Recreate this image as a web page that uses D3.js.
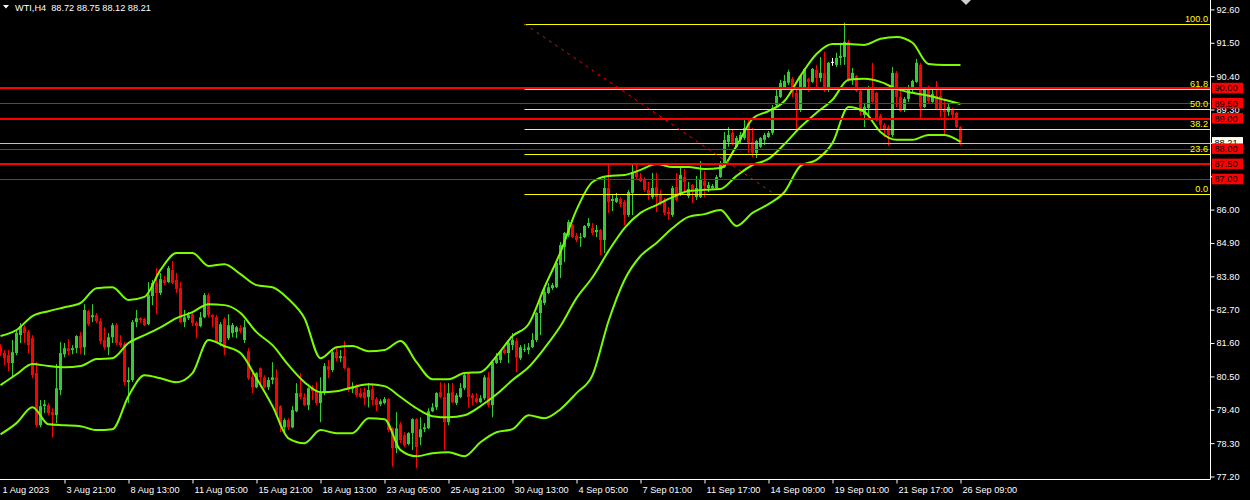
<!DOCTYPE html>
<html><head><meta charset="utf-8">
<script src="https://cdn.jsdelivr.net/npm/d3@7"></script>
<style>
html,body{margin:0;padding:0;background:#000;overflow:hidden}
svg{display:block}
text{font-family:"Liberation Sans",Arial,sans-serif;font-size:9.2px}
</style></head><body>
<svg id="c" width="1250" height="500"></svg>
<script>
// ---------------- DATA ----------------
const chartTitle = "WTI,H4  88.72 88.75 88.12 88.21";

const opens = [
81.46,81.27,81.20,80.94,81.27,81.86,82.12,81.96,81.76,80.61,
78.89,79.52,79.55,79.32,79.22,80.05,81.23,81.43,81.37,81.43,
81.83,81.46,82.65,82.45,82.52,82.32,81.70,81.46,81.79,82.19,
81.63,81.56,80.31,80.38,82.29,82.42,82.39,82.22,83.15,83.58,
83.25,83.68,83.61,84.01,83.68,83.41,82.29,82.42,82.55,82.26,
82.16,82.45,83.18,82.52,82.45,81.63,82.39,81.76,81.93,81.96,
82.09,81.70,81.33,80.47,80.14,80.77,80.47,80.14,80.38,80.47,
79.52,78.82,79.06,78.82,79.35,79.95,79.82,79.55,80.14,80.05,
79.62,79.95,80.84,80.71,81.30,81.10,81.17,80.77,80.08,80.14,
79.95,79.98,79.82,80.08,79.75,79.58,79.62,79.75,78.79,78.13,
78.92,78.56,78.27,78.63,79.09,78.49,78.76,78.79,79.35,79.48,
79.98,79.82,78.99,79.98,79.62,79.82,80.11,80.61,79.88,79.78,
79.65,79.78,80.47,79.55,80.94,81.04,81.37,81.27,81.53,81.67,
81.10,81.37,81.37,81.46,81.70,82.59,82.92,83.25,83.41,83.44,
84.17,84.77,85.16,85.49,85.13,85.06,85.09,85.46,85.39,85.26,
85.33,85.00,86.71,86.28,86.25,86.35,86.25,85.82,86.55,87.24,
87.04,87.01,86.65,86.41,86.74,86.48,86.32,85.92,85.82,86.74,
86.52,87.07,86.45,86.81,86.41,86.41,86.94,86.71,86.71,86.71,
87.07,87.40,88.23,88.53,88.07,88.30,88.36,88.86,88.23,87.87,
88.07,88.30,88.39,88.53,89.45,89.71,90.04,90.18,90.31,89.85,
89.29,89.98,90.31,90.21,90.61,90.34,90.51,89.95,90.87,90.77,
91.00,91.03,91.53,90.28,90.41,89.91,89.12,89.35,90.04,89.85,
89.09,88.79,88.72,88.46,90.51,89.71,89.29,89.65,89.95,90.21,
90.77,89.38,90.01,89.55,89.75,89.75,89.32,89.22,89.32,89.19,
88.72];

const highs = [
81.56,81.37,81.37,81.70,82.03,82.26,82.19,82.03,81.86,80.97,
79.72,79.72,79.62,79.45,80.91,81.63,81.60,81.73,81.53,81.86,
81.96,82.88,82.69,82.88,82.59,82.42,82.12,81.93,82.26,82.26,
81.86,81.63,80.80,82.36,82.69,82.45,82.42,83.61,83.68,84.07,
83.91,83.81,84.14,84.30,83.91,83.61,82.69,82.62,82.59,82.32,
82.62,83.25,83.25,82.55,82.52,82.29,82.45,82.55,82.26,82.16,
82.19,82.36,81.43,80.71,80.64,80.80,80.54,80.47,80.97,80.74,
79.55,79.12,79.12,79.52,80.28,80.61,79.95,80.14,80.21,80.31,
80.47,80.94,81.04,81.37,81.46,81.37,81.67,80.80,80.31,80.24,
80.11,80.14,80.28,80.28,79.82,79.75,79.82,79.78,78.82,79.32,
78.99,78.66,78.66,79.12,79.12,79.15,78.96,79.45,79.62,79.98,
80.31,80.28,80.28,80.28,79.95,80.28,80.64,80.64,79.95,79.95,
79.88,80.54,80.64,81.04,81.27,81.37,81.43,81.70,81.93,81.76,
81.53,81.56,81.60,81.93,82.62,83.12,83.44,83.58,83.58,84.27,
84.93,85.26,85.66,85.52,85.23,85.23,85.49,85.72,85.56,85.49,
85.36,87.07,87.54,86.48,86.55,86.41,86.32,86.65,87.47,87.54,
87.21,87.07,86.91,87.21,87.21,86.65,86.38,86.08,86.78,87.21,
87.40,87.34,86.91,86.84,87.11,87.60,87.27,86.91,86.84,87.14,
87.60,88.56,88.72,88.63,88.43,88.56,88.96,88.96,88.69,88.30,
88.39,88.53,88.59,89.45,89.95,90.28,90.44,90.61,90.37,90.04,
90.44,90.67,90.34,90.67,90.77,91.03,91.20,90.87,91.00,91.17,
91.50,92.16,91.60,90.67,90.44,89.98,89.52,90.08,90.84,89.88,
89.15,88.86,88.79,90.70,90.57,90.04,89.71,90.11,90.28,90.97,
90.84,90.04,90.08,89.95,90.24,90.04,89.62,89.52,89.35,89.22,
88.75];

const lows = [
81.17,80.87,80.67,80.44,81.20,81.60,81.60,81.27,80.44,78.82,
78.82,79.29,79.22,78.49,78.96,79.88,81.13,81.20,81.23,81.27,
81.23,81.20,82.16,82.29,82.26,81.56,81.37,81.20,81.60,81.53,
81.46,80.21,79.62,80.31,82.12,82.26,82.16,82.19,82.85,82.55,
83.18,83.51,83.58,83.54,83.25,82.26,82.12,82.36,82.16,81.76,
82.12,82.42,82.45,82.12,81.60,81.50,81.20,81.70,81.79,81.76,
81.93,81.60,80.38,79.95,80.11,80.14,80.11,80.05,80.24,79.19,
78.66,78.63,78.73,78.79,79.32,79.75,79.52,79.39,79.72,79.55,
78.99,79.88,80.44,80.64,81.00,80.97,80.74,79.98,79.95,79.82,
79.78,79.55,79.48,79.55,79.35,79.52,79.58,78.66,77.53,77.97,
78.30,78.17,78.23,78.07,77.47,78.23,78.66,78.76,79.32,79.39,
79.78,78.07,78.89,79.62,79.55,79.78,80.05,79.48,79.55,79.62,
79.62,79.72,79.48,79.15,80.91,80.94,81.23,80.94,81.37,80.64,
81.04,81.30,81.23,81.43,81.63,81.86,82.85,83.21,83.35,83.41,
83.74,84.27,85.09,85.06,84.93,84.77,85.06,85.39,85.16,85.09,
84.50,84.57,85.89,85.95,86.22,86.08,85.49,85.76,85.82,86.98,
86.91,86.58,86.32,86.35,85.92,86.15,85.82,85.66,85.76,86.28,
86.45,86.58,86.38,86.22,86.32,86.38,86.41,86.58,86.68,86.68,
87.04,87.37,88.07,88.13,88.03,88.20,88.30,87.87,87.73,87.70,
88.03,88.13,88.36,88.46,89.38,89.68,89.95,90.11,89.71,88.59,
89.22,89.95,89.88,90.18,90.04,90.21,89.88,89.88,90.74,90.70,
90.77,90.77,90.21,90.11,89.88,89.09,88.72,89.09,89.52,88.92,
88.63,88.39,88.10,88.39,89.38,89.22,89.22,89.55,89.88,90.18,
88.96,89.35,89.52,89.52,89.29,89.05,88.46,89.09,88.96,88.69,
88.12];

const closes = [
81.27,81.10,80.94,81.30,81.93,82.16,81.93,81.53,80.54,78.89,
79.52,79.58,79.29,79.22,80.11,81.27,81.43,81.33,81.43,81.83,
81.43,82.69,82.22,82.52,82.32,81.66,81.46,81.79,82.19,81.60,
81.53,80.31,80.38,82.29,82.42,82.36,82.19,83.18,83.58,83.25,
83.71,83.58,84.07,83.58,83.38,82.29,82.45,82.52,82.26,82.16,
82.45,83.18,82.52,82.45,81.63,82.22,81.43,82.19,82.19,82.12,
81.99,82.12,80.44,80.14,80.61,80.47,80.14,80.38,80.47,79.22,
78.89,79.06,78.82,79.39,79.95,79.82,79.55,80.11,80.01,79.62,
79.95,80.84,80.71,81.30,81.10,81.17,80.77,80.05,80.14,79.88,
79.82,79.78,80.05,79.72,79.55,79.68,79.75,78.73,78.13,78.79,
78.40,78.23,78.63,79.09,78.17,78.76,78.82,79.35,79.48,79.95,
79.82,78.99,79.95,79.65,79.88,80.11,80.54,79.82,79.78,79.65,
79.78,80.47,79.55,80.97,81.13,81.33,81.27,81.60,81.70,81.13,
81.46,81.40,81.46,81.70,82.59,83.02,83.28,83.44,83.51,84.24,
84.83,85.23,85.59,85.09,85.00,85.09,85.46,85.56,85.23,85.33,
85.00,86.71,86.25,86.35,86.38,86.18,85.82,86.58,87.24,87.07,
86.94,86.65,86.48,86.71,86.41,86.22,85.89,85.85,86.71,86.32,
87.14,86.91,86.68,86.58,86.71,86.98,86.78,86.81,86.78,87.07,
87.47,88.30,88.46,88.20,88.36,88.46,88.69,88.20,87.87,88.26,
88.36,88.46,88.53,89.35,89.75,90.18,90.24,90.54,89.85,89.29,
90.41,90.64,90.21,90.64,90.34,90.51,89.95,90.84,90.87,91.00,
91.07,91.53,90.28,90.51,89.91,89.22,89.38,90.04,89.55,88.96,
88.79,88.63,88.46,90.51,89.71,89.25,89.65,90.01,90.24,90.84,
89.38,89.95,89.58,89.81,89.32,89.29,89.22,89.38,89.12,88.72,
88.21];

// Bollinger band values read every 4 bars (bar index = 4*k)
const bandStep = 4;
const upperBand = [
81.83,82.03,82.49,82.65,82.78,82.92,83.41,83.44,83.02,83.12,
84.01,84.57,84.57,84.14,84.20,83.87,83.51,83.44,83.05,82.42,
81.10,81.46,81.50,81.33,81.37,81.67,80.97,80.41,80.41,80.61,
80.64,81.17,81.83,82.22,83.44,84.60,85.99,86.91,87.11,87.14,
87.31,87.50,87.40,87.40,87.34,87.37,88.10,88.99,89.25,89.58,
90.41,91.13,91.46,91.46,91.43,91.63,91.69,91.50,90.80,90.77,
90.77];
const middleBand = [
80.21,80.57,80.91,80.84,80.80,80.84,81.07,81.10,81.60,81.86,
82.12,82.42,82.62,82.88,82.85,82.59,81.96,81.53,80.87,80.31,
79.98,80.01,80.14,80.24,80.18,79.82,79.45,79.19,79.15,79.22,
79.52,79.91,80.38,80.80,81.43,82.16,83.08,83.77,84.63,85.39,
85.89,86.15,86.41,86.61,86.65,86.68,87.11,87.47,87.67,88.16,
88.72,89.19,89.62,90.28,90.31,90.21,89.98,89.85,89.75,89.62,
89.48];
const lowerBand = [
78.59,78.96,79.48,78.92,78.89,78.86,78.73,78.76,79.85,80.54,
80.44,80.31,80.61,81.70,81.50,81.27,80.44,79.52,78.46,78.30,
78.73,78.63,78.63,79.12,79.09,78.07,77.87,77.97,78.00,77.87,
78.33,78.66,78.76,79.22,79.12,79.42,79.95,80.54,82.32,83.68,
84.47,84.90,85.39,85.76,85.85,85.99,85.46,85.89,86.18,86.58,
87.44,87.64,88.20,89.38,89.22,88.56,88.30,88.30,88.46,88.46,
88.23];

const xLabelIdx = [0,16,32,48,64,80,96,112,128,144,160,176,192,208,224,240];
const xLabels = ["1 Aug 2023","3 Aug 21:00","8 Aug 13:00","11 Aug 05:00","15 Aug 21:00",
  "18 Aug 13:00","23 Aug 05:00","25 Aug 21:00","30 Aug 13:00","4 Sep 05:00","7 Sep 01:00",
  "11 Sep 17:00","14 Sep 09:00","19 Sep 01:00","21 Sep 17:00","26 Sep 09:00"];
const priceTicks = [92.6,91.5,90.4,89.3,88.2,87.1,86.0,84.9,83.8,82.7,81.6,80.5,79.4,78.3,77.2];

const redLevels = [90.0, 89.5, 89.0, 88.0, 87.5, 87.0];
const redLineWidths = [2, 1, 2, 1, 2, 1];
const fibRatios = [100.0, 61.8, 50.0, 38.2, 23.6, 0.0];
const fibHigh = 92.12, fibLow = 86.51;
const fibStartIdx = 131, fibEndIdx = 193.5;
const currentPrice = 88.21;

// ---------------- CHART ----------------
const W = 1250, H = 500, axisX = 1210.5, axisY = 479.5;
const svg = d3.select("#c");
svg.append("rect").attr("width", W).attr("height", H).attr("fill", "#000");

const y = d3.scaleLinear().domain([77.2, 92.6]).range([476.5, 9.4]);
const x = d3.scaleLinear().domain([0, 240]).range([0.5, 960.5]);

svg.append("defs").append("clipPath").attr("id", "clip")
  .append("rect").attr("x", 0).attr("y", 0).attr("width", 1210).attr("height", 479);
const plot = svg.append("g").attr("clip-path", "url(#clip)");

// candles
const idx = d3.range(opens.length);
const col = i => closes[i] > opens[i] ? "#32CD32" : (closes[i] < opens[i] ? "#FF0000" : "#FFFFFF");
const cg = plot.append("g");
cg.selectAll("line.w").data(idx).join("line")
  .attr("x1", i => x(i)).attr("x2", i => x(i))
  .attr("y1", i => y(highs[i])).attr("y2", i => y(lows[i]))
  .attr("stroke", col).attr("stroke-width", 1);
cg.selectAll("rect.b").data(idx).join("rect")
  .attr("x", i => x(i) - 1.5).attr("width", 3)
  .attr("y", i => y(Math.max(opens[i], closes[i])))
  .attr("height", i => Math.max(1, Math.abs(y(opens[i]) - y(closes[i]))))
  .attr("fill", col);

// bands
const bandLine = d3.line().x((d, k) => x(k * bandStep)).y(d => y(d)).curve(d3.curveMonotoneX);
[upperBand, middleBand, lowerBand].forEach(b => {
  plot.append("path").attr("d", bandLine(b)).attr("fill", "none")
    .attr("stroke", "#7CFC00").attr("stroke-width", 2);
});

// red horizontal levels
redLevels.forEach((lv, j) => {
  const yy = Math.round(y(lv)) + (redLineWidths[j] === 1 ? 0.5 : 0);
  plot.append("line").attr("x1", 0).attr("x2", 1210).attr("y1", yy).attr("y2", yy)
    .attr("stroke", "#FF0000").attr("stroke-width", redLineWidths[j]);
});

// fibonacci
const fibPrice = r => fibLow + (fibHigh - fibLow) * r / 100;
fibRatios.forEach(r => {
  const yy = Math.round(y(fibPrice(r))) + 0.5;
  plot.append("line").attr("x1", x(fibStartIdx)).attr("x2", 1210).attr("y1", yy).attr("y2", yy)
    .attr("stroke", "#FFFF00").attr("stroke-width", 1);
});
plot.append("line")
  .attr("x1", x(fibStartIdx)).attr("y1", y(fibHigh))
  .attr("x2", x(fibEndIdx)).attr("y2", y(fibLow))
  .attr("stroke", "#FF0000").attr("stroke-width", 1).attr("stroke-dasharray", "3,4.4");

// current price line
const cy = Math.round(y(currentPrice)) + 0.5;
plot.append("line").attr("x1", 0).attr("x2", 1210).attr("y1", cy).attr("y2", cy)
  .attr("stroke", "#C0C0C0").attr("stroke-width", 1);

// fib labels
fibRatios.forEach(r => {
  svg.append("text").attr("x", 1208).attr("y", y(fibPrice(r)) - 1.8)
    .attr("text-anchor", "end").attr("fill", "#FFFF00").text(r.toFixed(1));
});

// axes (tick labels fully covered by the price boxes are left blank, as in the reference)
const boxPrices = [currentPrice].concat(redLevels);
const covered = v => boxPrices.some(p => Math.abs(y(p) - y(v)) < 4);
const yAxis = d3.axisRight(y).tickValues(priceTicks).tickSize(4).tickPadding(2)
  .tickFormat(v => covered(v) ? "" : d3.format(".2f")(v));
const ya = svg.append("g").attr("transform", `translate(${axisX},0)`).call(yAxis);
ya.select(".domain").remove();
ya.selectAll("line").attr("stroke", "#FFFFFF");
ya.selectAll("text").attr("fill", "#FFFFFF")
  .style("font-family", '"Liberation Sans",Arial,sans-serif').style("font-size", "9.2px");

const xAxis = d3.axisBottom(x).tickValues(xLabelIdx).tickSize(4).tickPadding(3)
  .tickFormat((d, i) => xLabels[i]);
const xa = svg.append("g").attr("transform", `translate(0,${axisY})`).call(xAxis);
xa.select(".domain").remove();
xa.selectAll("line").attr("stroke", "#FFFFFF");
xa.selectAll(".tick").filter(d => d === 0).select("line").remove();
xa.selectAll("text").attr("fill", "#FFFFFF").attr("text-anchor", "start").attr("x", 1.5)
  .style("font-family", '"Liberation Sans",Arial,sans-serif').style("font-size", "9.2px");

svg.append("line").attr("x1", axisX).attr("x2", axisX).attr("y1", 0).attr("y2", axisY)
  .attr("stroke", "#FFFFFF").attr("stroke-width", 1);
svg.append("line").attr("x1", 0).attr("x2", axisX).attr("y1", axisY).attr("y2", axisY)
  .attr("stroke", "#FFFFFF").attr("stroke-width", 1);

// price boxes
function priceBox(p, fill) {
  const yy = y(p);
  svg.append("rect").attr("x", 1212).attr("y", yy - 5.5).attr("width", 31).attr("height", 10.5)
    .attr("fill", fill);
  svg.append("text").attr("x", 1214.5).attr("y", yy).attr("dy", "0.34em")
    .attr("fill", "#000").text(p.toFixed(2));
}
priceBox(currentPrice, "#FFFFF0");
redLevels.forEach(lv => priceBox(lv, "#FF0000"));

// title
svg.append("path").attr("d", "M3,5 L9,5 L6,8.5 Z").attr("fill", "#FFFFFF");
svg.append("text").attr("x", 15).attr("y", 10.5).attr("fill", "#FFFFFF")
  .style("white-space", "pre").attr("xml:space", "preserve").text(chartTitle);
// chart shift marker
svg.append("path").attr("d", "M961,0 L971,0 L966,5 Z").attr("fill", "#D0D0D0");
</script>
</body></html>
